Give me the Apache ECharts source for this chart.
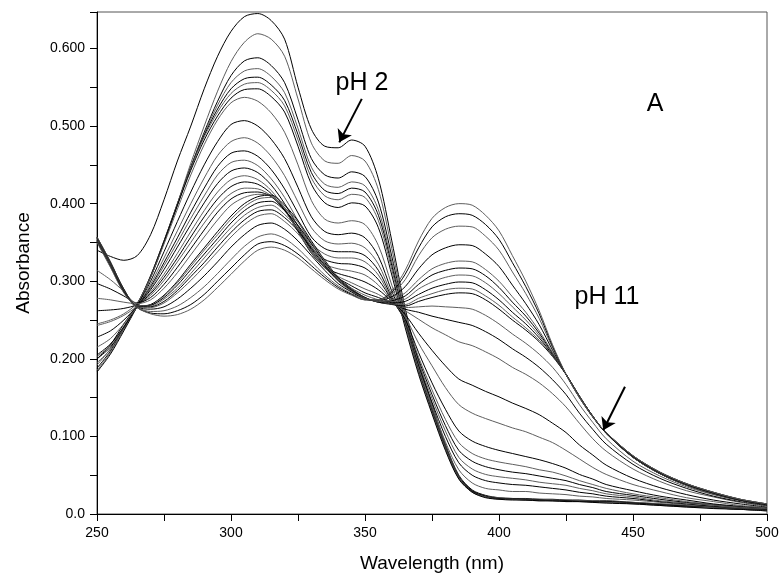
<!DOCTYPE html>
<html><head><meta charset="utf-8">
<script src="https://cdn.jsdelivr.net/npm/echarts@6/dist/echarts.min.js"></script>
<style>html,body{margin:0;padding:0;background:#fff}#c{width:779px;height:581px}</style>
</head><body><div id="c"></div>
<script>
// Wavelength grid (nm)
const wavelengths = [250,255,260,265,270,275,280,285,290,295,300,305,310,315,320,325,330,335,340,345,350,355,360,365,370,375,380,385,390,395,400,405,410,415,420,425,430,435,440,450,460,470,480,490,500];

// Acidic spectra (pH 2 first)
const acid1 = [0.340,0.332,0.327,0.333,0.360,0.405,0.455,0.500,0.548,0.590,0.622,0.641,0.645,0.636,0.612,0.550,0.496,0.474,0.472,0.482,0.474,0.432,0.352,0.265,0.196,0.142,0.090,0.050,0.031,0.024,0.021,0.020,0.020,0.019,0.019,0.018,0.018,0.017,0.017,0.015,0.013,0.011,0.009,0.007,0.006];
const acid2 = [0.245,0.250,0.258,0.272,0.305,0.350,0.400,0.452,0.500,0.545,0.583,0.608,0.619,0.612,0.590,0.535,0.478,0.455,0.452,0.462,0.455,0.418,0.342,0.260,0.193,0.140,0.089,0.049,0.030,0.023,0.021,0.020,0.019,0.019,0.018,0.018,0.017,0.017,0.016,0.015,0.013,0.011,0.009,0.007,0.006];
const acid3 = [0.200,0.218,0.245,0.270,0.305,0.350,0.398,0.447,0.492,0.532,0.565,0.584,0.588,0.578,0.556,0.508,0.458,0.437,0.433,0.441,0.435,0.402,0.332,0.255,0.190,0.137,0.087,0.048,0.030,0.023,0.020,0.020,0.019,0.018,0.018,0.017,0.017,0.016,0.016,0.014,0.012,0.010,0.008,0.007,0.005];
const acid4 = [0.192,0.213,0.242,0.270,0.306,0.351,0.399,0.447,0.490,0.527,0.556,0.571,0.574,0.564,0.543,0.497,0.447,0.425,0.421,0.428,0.423,0.392,0.325,0.250,0.187,0.135,0.086,0.047,0.029,0.022,0.020,0.019,0.019,0.018,0.018,0.017,0.017,0.016,0.015,0.014,0.012,0.010,0.008,0.006,0.005];
const acid5 = [0.188,0.210,0.240,0.270,0.307,0.352,0.400,0.447,0.488,0.522,0.548,0.561,0.563,0.553,0.533,0.489,0.440,0.417,0.413,0.420,0.415,0.385,0.320,0.247,0.185,0.133,0.085,0.046,0.029,0.022,0.020,0.019,0.018,0.018,0.017,0.017,0.016,0.016,0.015,0.014,0.012,0.010,0.008,0.006,0.005];
const acid6 = [0.185,0.208,0.238,0.269,0.307,0.352,0.400,0.446,0.486,0.518,0.542,0.554,0.556,0.546,0.526,0.482,0.433,0.410,0.405,0.412,0.408,0.378,0.315,0.244,0.183,0.131,0.084,0.046,0.028,0.022,0.019,0.019,0.018,0.017,0.017,0.016,0.016,0.015,0.015,0.013,0.011,0.009,0.008,0.006,0.004];
const acid7 = [0.183,0.206,0.236,0.268,0.306,0.351,0.398,0.443,0.482,0.513,0.536,0.547,0.548,0.538,0.518,0.474,0.425,0.401,0.395,0.401,0.397,0.369,0.308,0.240,0.180,0.129,0.082,0.045,0.028,0.021,0.019,0.018,0.018,0.017,0.017,0.016,0.016,0.015,0.014,0.013,0.011,0.009,0.007,0.006,0.004];

// Intermediate spectra
const mid1 = [0.195,0.212,0.240,0.270,0.305,0.348,0.393,0.437,0.476,0.508,0.530,0.537,0.532,0.517,0.492,0.450,0.404,0.380,0.375,0.378,0.373,0.346,0.295,0.246,0.189,0.139,0.093,0.057,0.040,0.033,0.031,0.029,0.029,0.027,0.026,0.025,0.023,0.022,0.020,0.018,0.015,0.012,0.010,0.008,0.006];
const mid2 = [0.200,0.215,0.240,0.268,0.300,0.338,0.377,0.415,0.450,0.480,0.502,0.507,0.500,0.483,0.458,0.421,0.383,0.364,0.360,0.362,0.356,0.332,0.287,0.247,0.192,0.144,0.100,0.066,0.050,0.043,0.040,0.038,0.037,0.035,0.033,0.031,0.028,0.026,0.023,0.020,0.016,0.013,0.010,0.008,0.006];
const mid3 = [0.203,0.217,0.240,0.267,0.296,0.330,0.365,0.400,0.433,0.462,0.480,0.485,0.478,0.461,0.436,0.402,0.369,0.352,0.348,0.349,0.343,0.322,0.282,0.248,0.195,0.149,0.107,0.073,0.058,0.051,0.048,0.046,0.044,0.041,0.039,0.037,0.033,0.030,0.026,0.022,0.017,0.014,0.011,0.008,0.007];
const mid4 = [0.205,0.219,0.241,0.267,0.293,0.324,0.356,0.389,0.420,0.448,0.465,0.468,0.461,0.444,0.419,0.388,0.357,0.342,0.338,0.338,0.333,0.314,0.279,0.248,0.199,0.154,0.114,0.082,0.068,0.061,0.057,0.054,0.052,0.049,0.046,0.043,0.038,0.034,0.029,0.024,0.019,0.015,0.012,0.009,0.007];
const mid5 = [0.215,0.226,0.245,0.267,0.291,0.320,0.350,0.381,0.410,0.437,0.453,0.456,0.449,0.432,0.408,0.378,0.349,0.335,0.330,0.330,0.325,0.308,0.277,0.249,0.202,0.160,0.122,0.092,0.078,0.071,0.067,0.064,0.061,0.057,0.054,0.049,0.043,0.038,0.033,0.026,0.021,0.016,0.012,0.009,0.007];
const mid6 = [0.228,0.236,0.250,0.268,0.289,0.315,0.344,0.373,0.401,0.426,0.442,0.446,0.440,0.424,0.400,0.371,0.343,0.328,0.323,0.322,0.317,0.302,0.276,0.251,0.208,0.169,0.135,0.107,0.094,0.087,0.082,0.078,0.074,0.070,0.065,0.059,0.051,0.045,0.038,0.030,0.023,0.018,0.013,0.010,0.008];
const mid7 = [0.243,0.248,0.256,0.268,0.286,0.309,0.336,0.364,0.391,0.415,0.431,0.436,0.431,0.417,0.394,0.366,0.338,0.322,0.316,0.313,0.308,0.295,0.275,0.254,0.220,0.191,0.163,0.141,0.130,0.123,0.117,0.111,0.106,0.099,0.092,0.082,0.071,0.060,0.051,0.038,0.029,0.021,0.016,0.011,0.008];
const mid8 = [0.262,0.263,0.265,0.270,0.284,0.305,0.330,0.357,0.383,0.406,0.422,0.428,0.425,0.413,0.392,0.364,0.336,0.318,0.310,0.305,0.299,0.289,0.274,0.257,0.233,0.211,0.191,0.174,0.166,0.158,0.151,0.143,0.136,0.128,0.117,0.105,0.089,0.076,0.063,0.046,0.034,0.025,0.018,0.013,0.009];
const mid9 = [0.278,0.276,0.273,0.271,0.282,0.301,0.325,0.350,0.375,0.397,0.413,0.420,0.419,0.410,0.391,0.365,0.337,0.317,0.306,0.298,0.290,0.283,0.272,0.262,0.251,0.240,0.231,0.222,0.217,0.209,0.200,0.189,0.180,0.169,0.155,0.138,0.117,0.097,0.081,0.058,0.042,0.030,0.022,0.015,0.010];
const mid10 = [0.297,0.290,0.281,0.272,0.279,0.296,0.318,0.342,0.366,0.389,0.406,0.414,0.415,0.409,0.392,0.368,0.340,0.318,0.304,0.294,0.285,0.279,0.272,0.264,0.260,0.255,0.251,0.247,0.243,0.235,0.225,0.213,0.202,0.189,0.173,0.154,0.130,0.109,0.090,0.064,0.046,0.033,0.023,0.016,0.011];
const mid11 = [0.314,0.302,0.287,0.271,0.276,0.291,0.311,0.334,0.357,0.379,0.398,0.408,0.412,0.410,0.395,0.372,0.345,0.321,0.304,0.291,0.282,0.276,0.271,0.266,0.267,0.268,0.267,0.266,0.264,0.256,0.245,0.232,0.220,0.206,0.189,0.167,0.141,0.118,0.097,0.068,0.049,0.035,0.025,0.017,0.012];

// Basic spectra
const base1 = [0.357,0.325,0.290,0.268,0.270,0.282,0.300,0.322,0.343,0.364,0.384,0.400,0.409,0.411,0.398,0.378,0.352,0.327,0.305,0.290,0.279,0.273,0.270,0.268,0.274,0.279,0.283,0.285,0.284,0.276,0.264,0.250,0.237,0.222,0.203,0.180,0.152,0.126,0.104,0.073,0.052,0.037,0.026,0.018,0.012];
const base2 = [0.357,0.325,0.290,0.268,0.269,0.281,0.298,0.319,0.340,0.360,0.380,0.396,0.406,0.408,0.395,0.376,0.350,0.326,0.304,0.290,0.279,0.273,0.271,0.270,0.278,0.284,0.289,0.291,0.290,0.281,0.269,0.254,0.240,0.224,0.204,0.180,0.152,0.126,0.104,0.073,0.052,0.037,0.026,0.018,0.012];
const base3 = [0.356,0.324,0.289,0.268,0.269,0.279,0.295,0.315,0.335,0.355,0.375,0.391,0.401,0.403,0.391,0.372,0.348,0.324,0.303,0.289,0.279,0.273,0.272,0.274,0.283,0.291,0.296,0.299,0.298,0.289,0.276,0.260,0.245,0.227,0.205,0.180,0.152,0.126,0.104,0.073,0.052,0.037,0.026,0.018,0.012];
const base4 = [0.356,0.324,0.289,0.268,0.268,0.277,0.291,0.310,0.330,0.350,0.369,0.385,0.395,0.398,0.386,0.368,0.345,0.322,0.302,0.288,0.278,0.274,0.274,0.277,0.290,0.299,0.305,0.308,0.307,0.298,0.284,0.267,0.250,0.230,0.206,0.180,0.152,0.126,0.104,0.073,0.052,0.037,0.026,0.018,0.012];
const base5 = [0.355,0.323,0.289,0.267,0.267,0.274,0.288,0.306,0.324,0.344,0.363,0.379,0.390,0.392,0.382,0.365,0.342,0.320,0.301,0.288,0.278,0.274,0.275,0.281,0.296,0.308,0.314,0.317,0.316,0.307,0.292,0.273,0.255,0.233,0.207,0.180,0.151,0.126,0.104,0.074,0.053,0.038,0.027,0.018,0.012];
const base6 = [0.354,0.322,0.288,0.267,0.266,0.272,0.285,0.301,0.319,0.338,0.357,0.373,0.384,0.387,0.377,0.361,0.339,0.318,0.300,0.287,0.278,0.274,0.276,0.285,0.302,0.316,0.323,0.326,0.325,0.315,0.300,0.280,0.260,0.236,0.208,0.180,0.151,0.126,0.104,0.074,0.053,0.038,0.027,0.018,0.012];
const base7 = [0.353,0.321,0.287,0.267,0.264,0.267,0.277,0.291,0.307,0.325,0.344,0.360,0.372,0.375,0.367,0.352,0.333,0.314,0.297,0.286,0.277,0.275,0.280,0.293,0.316,0.334,0.343,0.347,0.346,0.335,0.319,0.295,0.271,0.244,0.211,0.180,0.151,0.125,0.104,0.074,0.053,0.038,0.027,0.018,0.012];
const base8 = [0.352,0.320,0.286,0.267,0.261,0.262,0.268,0.279,0.293,0.310,0.328,0.345,0.357,0.361,0.355,0.342,0.325,0.308,0.294,0.284,0.277,0.275,0.284,0.302,0.333,0.356,0.367,0.371,0.370,0.358,0.340,0.312,0.284,0.252,0.214,0.180,0.151,0.125,0.105,0.075,0.054,0.039,0.028,0.019,0.013];
const base9 = [0.351,0.319,0.286,0.266,0.259,0.258,0.262,0.270,0.283,0.300,0.317,0.334,0.348,0.351,0.346,0.335,0.320,0.305,0.292,0.283,0.276,0.276,0.286,0.309,0.343,0.370,0.383,0.387,0.385,0.373,0.354,0.324,0.293,0.258,0.216,0.180,0.150,0.125,0.105,0.075,0.054,0.039,0.028,0.019,0.013];
const base10 = [0.350,0.318,0.285,0.266,0.258,0.255,0.257,0.264,0.276,0.292,0.309,0.326,0.340,0.344,0.340,0.330,0.316,0.302,0.290,0.282,0.276,0.276,0.288,0.314,0.352,0.381,0.395,0.400,0.398,0.385,0.365,0.333,0.300,0.262,0.218,0.180,0.150,0.125,0.105,0.075,0.054,0.039,0.028,0.019,0.013];

// Arrow annotations in data coordinates [from, to]
const arrowPH2 = [[348.8, 0.535], [340.4, 0.479]];
const arrowPH11 = [[447.0, 0.164], [438.9, 0.108]];

const spectra = [acid1,acid2,acid3,acid4,acid5,acid6,acid7,
  mid1,mid2,mid3,mid4,mid5,mid6,mid7,mid8,mid9,mid10,mid11,
  base1,base2,base3,base4,base5,base6,base7,base8,base9,base10];

const FONT = '"Liberation Sans", Arial, sans-serif';
const series = spectra.map((d, i) => ({
  type: 'line',
  data: wavelengths.map((w, j) => [w, d[j]]),
  symbol: 'none',
  showSymbol: false,
  smooth: 0.3,
  silent: true,
  lineStyle: { width: 1, color: i % 2 ? '#5e5e5e' : '#000000' },
  z: 2
}));
series[0].markLine = {
  silent: true,
  symbol: ['none', 'arrow'],
  symbolSize: 12,
  lineStyle: { color: '#000', width: 2, type: 'solid' },
  label: { show: false },
  animation: false,
  data: [
    [{ coord: arrowPH2[0] }, { coord: arrowPH2[1] }],
    [{ coord: arrowPH11[0] }, { coord: arrowPH11[1] }]
  ]
};

const chart = echarts.init(document.getElementById('c'));
chart.setOption({
  animation: false,
  backgroundColor: '#fff',
  grid: { left: 97, right: 12, top: 12, bottom: 67, show: true, borderColor: '#555', borderWidth: 1, outerBoundsMode: 'none' },
  xAxis: {
    type: 'value', min: 250, max: 500, interval: 25,
    axisLine: { lineStyle: { color: '#000', width: 1 } },
    axisTick: { length: 7, lineStyle: { color: '#000' } },
    axisLabel: { formatter: v => (v % 50 === 0 ? String(v) : ''), color: '#000', fontSize: 14, fontFamily: FONT, margin: 12 },
    splitLine: { show: false },
    name: 'Wavelength (nm)', nameLocation: 'middle', nameGap: 40,
    nameTextStyle: { fontSize: 19, color: '#000', fontFamily: FONT }
  },
  yAxis: {
    type: 'value', min: 0, max: 0.647, interval: 0.05,
    axisLine: { show: true, lineStyle: { color: '#000', width: 1 } },
    axisTick: { show: true, length: 7, lineStyle: { color: '#000' } },
    axisLabel: {
      formatter: v => { const k = Math.round(v * 1000); if (k % 100 !== 0) return ''; return k === 0 ? '0.0' : (k / 1000).toFixed(3); },
      color: '#000', fontSize: 14, fontFamily: FONT, margin: 12
    },
    splitLine: { show: false },
    name: 'Absorbance', nameLocation: 'middle', nameGap: 64, nameRotate: 90,
    nameTextStyle: { fontSize: 19, color: '#000', fontFamily: FONT }
  },
  graphic: [
    { type: 'text', x: 362, y: 83, style: { text: 'pH 2', font: '25px ' + FONT, fill: '#000', align: 'center', verticalAlign: 'middle' } },
    { type: 'text', x: 655, y: 104, style: { text: 'A', font: '25px ' + FONT, fill: '#000', align: 'center', verticalAlign: 'middle' } },
    { type: 'text', x: 607, y: 297, style: { text: 'pH 11', font: '25px ' + FONT, fill: '#000', align: 'center', verticalAlign: 'middle' } }
  ],
  series: series
});
</script></body></html>
